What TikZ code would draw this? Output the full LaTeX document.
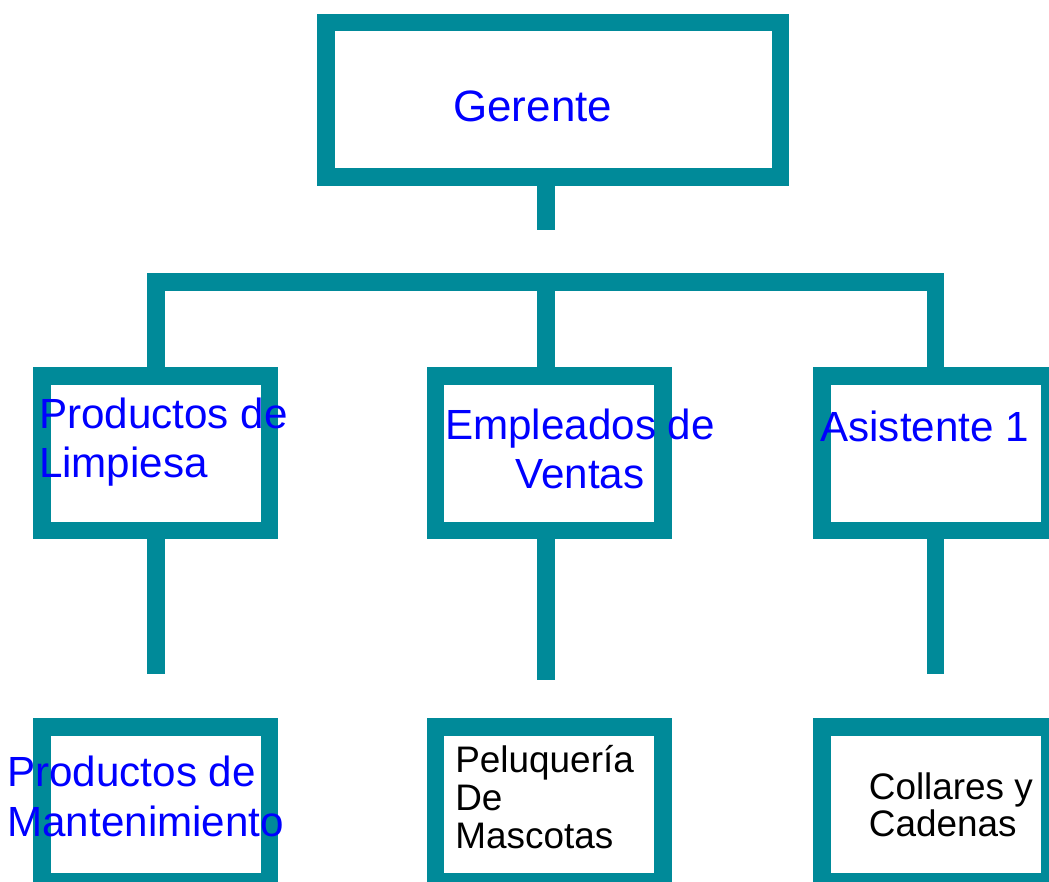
\documentclass[tikz,border=0pt]{standalone}
\usepackage{fontspec}
\setmainfont{Liberation Sans}
\usetikzlibrary{positioning}

\definecolor{orgteal}{RGB}{0,138,153}
\tikzset{
  orgbox/.style={draw=orgteal, line width=0.35cm, minimum width=4.55cm, minimum height=3.09cm, inner sep=0pt},
  link/.style={draw=orgteal, line width=0.35cm},
  bluetext/.style={text=blue, inner sep=0pt, font=\fontsize{24}{28}\selectfont, align=left, anchor=base west},
  blacktext/.style={text=black, inner sep=0pt, font=\fontsize{21}{21.7}\selectfont, align=left, anchor=base west}
}

\begin{document}
\begin{tikzpicture}
            \useasboundingbox (0, 0) rectangle (20.98, -17.64);
            % boxes
            \node[orgbox, minimum width=9.09cm] (ger) at (11.066, -2.0) {};
            \node[orgbox] (limp) at (3.116, -9.066) {};
            \node[orgbox] (vent) at (10.984, -9.066) {};
            \node[orgbox] (asis) at (18.713, -9.066) {};
            \node[orgbox, below=3.58cm of limp] (mant) {};
            \node[orgbox, below=3.58cm of vent] (pelu) {};
            \node[orgbox, below=3.58cm of asis] (coll) {};
            % connectors
            \coordinate (bus) at (10.92, -5.64);
            \coordinate (gerstub) at (10.92, -4.6);
            \coordinate (limpfoot) at (3.116, -13.486);
            \coordinate (ventfoot) at (10.92, -13.6);
            \coordinate (asisfoot) at (18.713, -13.486);
            \draw[link] (gerstub |- ger.south) -- (gerstub);
            \draw[link] (limp.north) |- (bus) -| (asis.north);
            \draw[link] (bus) -- (bus |- vent.north);
            \draw[link] (limp.south) -- (limpfoot);
            \draw[link] (ventfoot |- vent.south) -- (ventfoot);
            \draw[link] (asis.south) -- (asisfoot);
            % texts (base = last line)
            \node[bluetext, font=\fontsize{25}{29}\selectfont] (gertxt) at (9.06, -2.434) {Gerente};
            \node[bluetext] (limptxt) at (0.774, -9.554) {Productos de\\Limpiesa};
            \node[bluetext, align=center, anchor=base] (venttxt) at (11.6, -9.766) {Empleados de\\Ventas};
            \node[bluetext] (asistxt) at (16.4, -8.834) {Asistente 1};
            \node[bluetext] (manttxt) at (0.14, -16.72) {Productos de\\Mantenimiento};
            \node[blacktext] (pelutxt) at (9.1, -16.966) {Peluquería\\De\\Mascotas};
            \node[blacktext, font=\fontsize{21}{20.5}\selectfont] (colltxt) at (17.37, -16.72) {Collares y\\Cadenas};
        \end{tikzpicture}
\end{document}
